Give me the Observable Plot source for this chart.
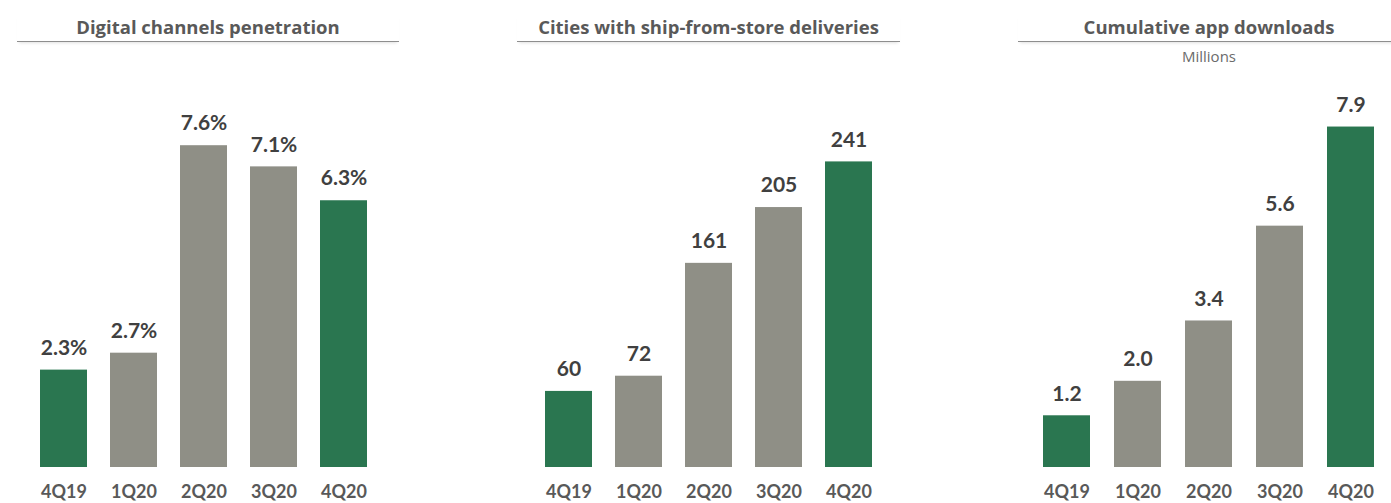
<!DOCTYPE html>
<html>
<head>
<meta charset="utf-8">
<script src="https://cdn.jsdelivr.net/npm/d3@7"></script>
<script src="https://cdn.jsdelivr.net/npm/@observablehq/plot@0.6"></script>
<style>
  html, body { margin: 0; padding: 0; background: #fff; }
  #root { position: relative; width: 1391px; height: 503px; overflow: hidden; font-family: Lato, "Open Sans", sans-serif; }
  .title { position: absolute; top: 14px; height: 27px; border-bottom: 1.5px solid #8e8e8e; box-shadow: 0 3px 3px -2px rgba(0,0,0,0.12); text-align: center; font-family: "Open Sans", sans-serif; font-weight: 700; font-size: 18.5px; color: #595959; line-height: 26px; }
  .sub { position: absolute; top: 46px; text-align: center; font-family: "Open Sans", sans-serif; font-size: 15px; color: #6b6b6b; }
  .panel { position: absolute; top: 60px; }
</style>
</head>
<body>
<div id="root"></div>
<script>
const quarters = ["4Q19", "1Q20", "2Q20", "3Q20", "4Q20"];
const digitalPenetration = [2.3, 2.7, 7.6, 7.1, 6.3];
const shipFromStoreCities = [60, 72, 161, 205, 241];
const appDownloads = [1.2, 2.0, 3.4, 5.6, 7.9];
const highlighted = [true, false, false, false, true];
const titles = ["Digital channels penetration", "Cities with ship-from-store deliveries", "Cumulative app downloads"];
const subtitle = "Millions";

const green = "#2a7650";
const gray = "#8f8f86";
const root = document.getElementById("root");

function addTitle(text, left, width) {
  const t = document.createElement("div");
  t.className = "title";
  t.style.left = left + "px";
  t.style.width = width + "px";
  t.textContent = text;
  root.appendChild(t);
}

function panel(values, fmt, left, width, marginLeft, marginRight, yMax) {
  const data = quarters.map((q, i) => ({q, v: values[i], hi: highlighted[i]}));
  const chart = Plot.plot({
    width, height: 443,
    marginTop: 20, marginBottom: 36, marginLeft, marginRight,
    style: {fontFamily: "Lato, 'Open Sans', sans-serif", background: "transparent", overflow: "visible"},
    x: {domain: quarters, paddingInner: 0.335, paddingOuter: 0, axis: null},
    y: {domain: [0, yMax], axis: null},
    color: {type: "identity"},
    marks: [
      Plot.barY(data, {x: "q", y: "v", fill: d => d.hi ? green : gray}),
      Plot.text(data, {x: "q", y: "v", text: d => fmt(d.v), dy: -22, fontSize: 21, fontWeight: 700, fill: "#404040"}),
      Plot.axisX({tickSize: 0, tickPadding: 18, fontSize: 18, fontWeight: 700, color: "#595959", label: null})
    ]
  });
  const div = document.createElement("div");
  div.className = "panel";
  div.style.left = left + "px";
  div.appendChild(chart);
  root.appendChild(div);
}

addTitle(titles[0], 17, 382);
addTitle(titles[1], 517, 383);
addTitle(titles[2], 1018, 382);
const s = document.createElement("div");
s.className = "sub";
s.style.left = "1018px"; s.style.width = "382px";
s.textContent = subtitle;
root.appendChild(s);

panel(digitalPenetration, v => v.toFixed(1) + "%", 0, 420, 39, 52, 9.14);
panel(shipFromStoreCities, v => String(v), 480, 440, 64, 48, 305.2);
panel(appDownloads, v => v.toFixed(1), 980, 411, 62, 15.5, 8.98);
</script>
</body>
</html>
